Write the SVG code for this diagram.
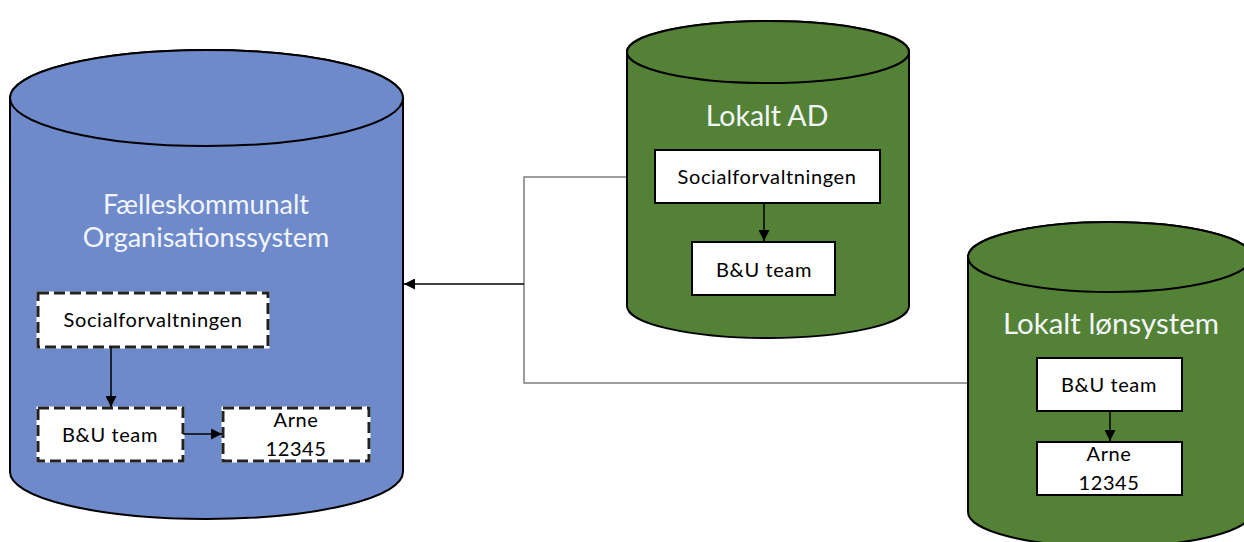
<svg xmlns="http://www.w3.org/2000/svg" width="1244" height="542" viewBox="0 0 1244 542">
<style>
.cyl-blue{fill:#6f8acb;stroke:#000;stroke-width:2}
.cyl-green{fill:#538135;stroke:#000;stroke-width:2}
.title{font-family:Lato,"Liberation Sans",sans-serif;fill:#f2f6fb;text-anchor:middle}
.lbl{font-family:Lato,"Liberation Sans",sans-serif;font-size:20px;letter-spacing:0.6px;fill:#000;text-anchor:middle}
.box{fill:#fff;stroke:#000;stroke-width:2}
.dash-under{fill:#fff;stroke:#fff;stroke-width:3}
.dash{fill:none;stroke:#222;stroke-width:3;stroke-dasharray:11 5}
.conn{fill:none;stroke:#000;stroke-width:1.5}
.gray{fill:none;stroke:#7f7f7f;stroke-width:1.5}
</style>
<defs>
<marker id="ah" viewBox="0 0 10 10" refX="10" refY="5" markerWidth="11" markerHeight="11" markerUnits="userSpaceOnUse" orient="auto">
<path d="M0,0 L10,5 L0,10 z" fill="#000"/>
</marker>
</defs>

<g id="connectors">
<path class="gray" d="M627,177 H524 V383 H970"/>
<path class="conn" d="M524,284 H404" marker-end="url(#ah)"/>
</g>

<g id="faelles">
<path class="cyl-blue" d="M10,98 A196.5,48 0 0 1 403,98 V472 A196.5,47 0 0 1 10,472 Z"/>
<ellipse class="cyl-blue" cx="206.5" cy="98" rx="196.5" ry="48"/>
<text class="title" x="206" y="214" font-size="27">Fælleskommunalt</text>
<text class="title" x="206" y="247" font-size="27">Organisationssystem</text>
</g>

<g id="f-social">
<rect class="dash-under" x="38" y="293" width="230" height="54"/>
<rect class="dash" x="38" y="293" width="230" height="54"/>
<text class="lbl" x="153" y="327">Socialforvaltningen</text>
</g>
<g id="f-bu">
<rect class="dash-under" x="38" y="408" width="145" height="53"/>
<rect class="dash" x="38" y="408" width="145" height="53"/>
<text class="lbl" x="110" y="442">B&amp;U team</text>
</g>
<g id="f-arne">
<rect class="dash-under" x="223" y="408" width="146" height="53"/>
<rect class="dash" x="223" y="408" width="146" height="53"/>
<text class="lbl" x="296" y="427">Arne</text>
<text class="lbl" x="296" y="456">12345</text>
</g>
<g id="f-edges">
<path class="conn" d="M111,347 V407" marker-end="url(#ah)"/>
<path class="conn" d="M183,434 H222" marker-end="url(#ah)"/>
</g>

<g id="lokalt-ad">
<path class="cyl-green" d="M627,52 A141,31 0 0 1 909,52 V306 A141,32 0 0 1 627,306 Z"/>
<ellipse class="cyl-green" cx="768" cy="52" rx="141" ry="31"/>
<text class="title" x="767" y="126" font-size="28.5">Lokalt AD</text>
</g>
<g id="ad-social">
<rect class="box" x="655" y="150" width="225" height="53"/>
<text class="lbl" x="767" y="184">Socialforvaltningen</text>
</g>
<g id="ad-bu">
<rect class="box" x="692" y="242" width="143" height="53"/>
<text class="lbl" x="764" y="277">B&amp;U team</text>
</g>
<g id="ad-edges">
<path class="conn" d="M764,203 V241" marker-end="url(#ah)"/>
</g>

<g id="lokalt-lon">
<path class="cyl-green" d="M968,257 A142,35 0 0 1 1252,257 V512 A142,35 0 0 1 968,512 Z"/>
<ellipse class="cyl-green" cx="1110" cy="257" rx="142" ry="35"/>
<text class="title" x="1111" y="334" font-size="29.5">Lokalt lønsystem</text>
</g>
<g id="lon-bu">
<rect class="box" x="1037" y="358" width="145" height="53"/>
<text class="lbl" x="1109" y="392">B&amp;U team</text>
</g>
<g id="lon-arne">
<rect class="box" x="1037" y="442" width="145" height="53"/>
<text class="lbl" x="1109" y="461">Arne</text>
<text class="lbl" x="1109" y="490">12345</text>
</g>
<g id="lon-edges">
<path class="conn" d="M1110,411 V441" marker-end="url(#ah)"/>
</g>
</svg>
